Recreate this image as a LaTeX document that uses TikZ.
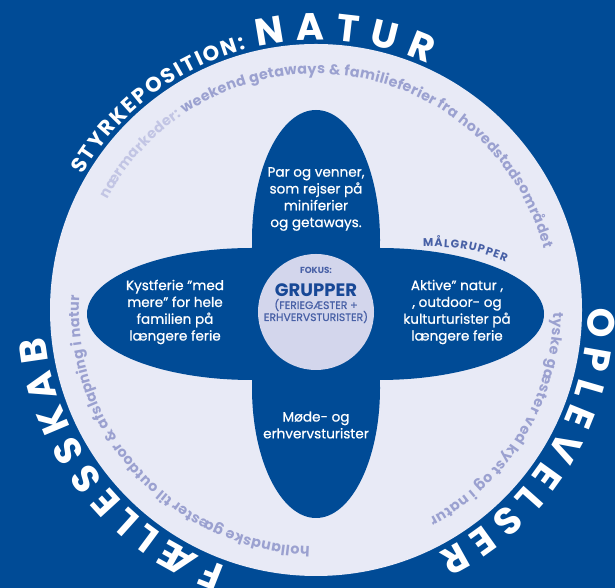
\documentclass[tikz,border=0pt]{standalone}
\usepackage{fontspec}
\setmainfont{Poppins}
\newfontfamily\rsMedium{Poppins}[FakeBold=0.7]
\usetikzlibrary{decorations.text}
\definecolor{bgblue}{RGB}{0,75,150}
\definecolor{ringfill}{RGB}{232,234,246}
\definecolor{hubfill}{RGB}{211,214,236}
\definecolor{arcgray}{RGB}{155,161,208}
\definecolor{arclight}{RGB}{194,197,228}
\definecolor{midblue}{RGB}{72,96,166}
\definecolor{deepblue}{RGB}{24,72,150}
\newcommand\rsGray{\fontsize{14.3}{14.3}\selectfont\bfseries\color{arcgray}}
\newcommand\rsLight{\fontsize{14.3}{14.3}\selectfont\bfseries\color{arclight}}
\newcommand\rsBig{\fontsize{38}{38}\selectfont\bfseries\color{white}}
\newcommand\rsMid{\fontsize{21}{21}\selectfont\bfseries\color{white}}
\newcommand\rsMaal{\fontsize{11.2}{11.2}\selectfont\bfseries\color{midblue}}
\begin{document}
\begin{tikzpicture}[x=1pt,y=1pt,
  petal/.style={fill=bgblue,draw=none},
  petaltext/.style={text=white,align=center,inner sep=0pt,font=\rsMedium\fontsize{13.6}{16.8}\selectfont},
  hubtext/.style={inner sep=0pt,anchor=base,align=center}]
\useasboundingbox (0,0) rectangle (615,588);
\fill[bgblue] (0,0) rectangle (615,588);
\coordinate (O) at (316,278);
\coordinate (D) at (316,274);
% main ring
\fill[ringfill] (O) circle[radius=266pt];
% petals
\fill[petal] (316,348) ellipse[x radius=64pt,y radius=130pt];
\fill[petal] (316,200) ellipse[x radius=64pt,y radius=130pt];
\fill[petal] (252,274) ellipse[x radius=165pt,y radius=66pt];
\fill[petal] (379,274) ellipse[x radius=165pt,y radius=66pt];
% hub
\fill[hubfill] (316,276) circle[radius=58pt];
% petal texts
\node[petaltext] (ptop) at (316,389) {Par og venner,\\som rejser på\\miniferier\\og getaways.};
\node[petaltext] (pbottom) at (316,163) {Møde- og\\erhvervsturister};
\node[petaltext] (pleft) at (175,276) {Kystferie ”med\\mere” for hele\\familien på\\længere ferie};
\node[petaltext] (pright) at (457,276) {Aktive” natur ,\\, outdoor- og\\kulturturister på\\længere ferie};
% hub texts
\node[hubtext,text=midblue,font=\fontsize{8.8}{8.8}\selectfont\bfseries] (fokus) at (316,314) {FOKUS:};
\node[hubtext,text=deepblue,font=\fontsize{18}{18}\selectfont\bfseries] (grupper) at (316,291) {GRUPPER};
\node[hubtext,text=midblue,font=\rsMedium\fontsize{10.8}{10.8}\selectfont] (ferie) at (316,279) {(FERIEGÆSTER +};
\node[hubtext,text=midblue,font=\rsMedium\fontsize{10.8}{10.8}\selectfont] (erhverv) at (316,267) {ERHVERVSTURISTER)};
% målgrupper label
\path[decorate,decoration={text along path,text align={fit to path},
  text={|\rsMaal|MÅLGRUPPER}}] (423,341) to[bend left=12] (506,326);
% inner arc texts
\path[decorate,decoration={text along path,text align={fit to path},
  text={|\rsLight|nærmarkeder: |\rsGray|weekend getaways {\&} familieferier fra hovedstadsområdet}}]
  (O) ++(152:236pt) arc[start angle=152,end angle=15,radius=236pt];
\path[decorate,decoration={text along path,text align={fit to path},
  text={|\rsGray|tyske gæster ved kyst og i natur}}]
  (O) ++(-0.5:237pt) arc[start angle=-0.5,end angle=-61.5,radius=237pt];
\path[decorate,decoration={text along path,text align={fit to path},
  text={|\rsGray|hollandske gæster til outdoor {\&} afslapning i natur}}]
  (O) ++(268.5:237pt) arc[start angle=268.5,end angle=176.5,radius=237pt];
% outer titles
\path[decorate,decoration={text along path,text align={fit to path},
  text={|\rsMid|STYRKEPOSITION:}}]
  (O) ++(150:270pt) arc[start angle=150,end angle=105,radius=270pt];
\path[decorate,decoration={text along path,text align={fit to path},
  text={|\rsBig|NATUR}}]
  (O) ++(102.5:270pt) arc[start angle=102.5,end angle=65.5,radius=270pt];
\path[decorate,decoration={text along path,text align={fit to path},
  text={|\rsBig|FÆLLESSKAB}}]
  (O) ++(250.6:272pt) arc[start angle=250.6,end angle=185.7,radius=272pt];
\path[decorate,decoration={text along path,text align={fit to path},
  text={|\rsBig|OPLEVELSER}}]
  (O) ++(0.6:272pt) arc[start angle=0.6,end angle=-63.4,radius=272pt];
\end{tikzpicture}
\end{document}
